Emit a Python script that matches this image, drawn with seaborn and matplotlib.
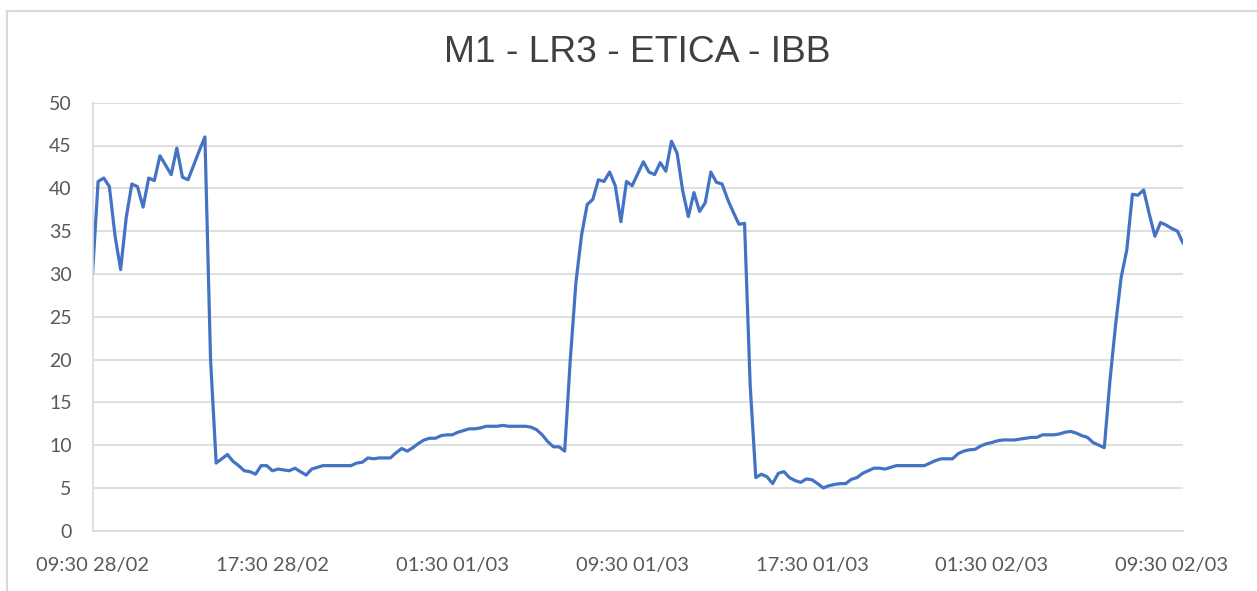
import numpy as np
import pandas as pd
import seaborn as sns
import matplotlib.pyplot as plt
from matplotlib.patches import Rectangle

# -----------------------------------------------------------------------------
# Data (one reading every 15 minutes, from 09:30 28/02)
# -----------------------------------------------------------------------------

values = [
    30.0, 40.8, 41.2, 40.2, 34.5, 30.5, 36.6, 40.5, 40.2, 37.8,
    41.2, 40.9, 43.8, 42.7, 41.6, 44.7, 41.3, 41.0, 42.7, 44.4,
    46.0, 20.0, 7.9, 8.4, 8.9, 8.1, 7.6, 7.0, 6.9, 6.6,
    7.6, 7.6, 7.0, 7.2, 7.1, 7.0, 7.3, 6.9, 6.5, 7.2,
    7.4, 7.6, 7.6, 7.6, 7.6, 7.6, 7.6, 7.9, 8.0, 8.5,
    8.4, 8.5, 8.5, 8.5, 9.1, 9.6, 9.3, 9.7, 10.2, 10.6,
    10.8, 10.8, 11.1, 11.2, 11.2, 11.5, 11.7, 11.9, 11.9, 12.0,
    12.2, 12.2, 12.2, 12.3, 12.2, 12.2, 12.2, 12.2, 12.1, 11.8,
    11.2, 10.4, 9.8, 9.8, 9.3, 20.0, 29.0, 34.5, 38.1, 38.7,
    41.0, 40.8, 41.9, 40.3, 36.1, 40.8, 40.3, 41.7, 43.1, 41.9,
    41.6, 43.0, 42.0, 45.5, 44.1, 39.7, 36.7, 39.5, 37.3, 38.3,
    41.9, 40.7, 40.5, 38.7, 37.2, 35.8, 35.9, 17.0, 6.2, 6.6,
    6.3, 5.5, 6.7, 6.9, 6.2, 5.85, 5.65, 6.05, 5.95, 5.5,
    5.0, 5.25, 5.4, 5.5, 5.5, 6.0, 6.2, 6.7, 7.0, 7.3,
    7.3, 7.2, 7.4, 7.6, 7.6, 7.6, 7.6, 7.6, 7.6, 7.9,
    8.2, 8.4, 8.4, 8.4, 9.0, 9.3, 9.45, 9.5, 9.9, 10.15,
    10.3, 10.5, 10.6, 10.6, 10.6, 10.7, 10.8, 10.9, 10.9, 11.2,
    11.2, 11.2, 11.3, 11.5, 11.6, 11.4, 11.1, 10.9, 10.3, 10.0,
    9.7, 17.5, 24.0, 29.6, 32.8, 39.3, 39.2, 39.8, 37.0, 34.4,
    36.0, 35.7, 35.3, 35.0, 33.6,
]

tick_labels = [
    "09:30 28/02", "17:30 28/02", "01:30 01/03", "09:30 01/03",
    "17:30 01/03", "01:30 02/03", "09:30 02/03",
]
y_ticks = [0, 5, 10, 15, 20, 25, 30, 35, 40, 45, 50]
title = "M1 - LR3 - ETICA - IBB"

times = pd.date_range("2023-02-28 09:30", periods=len(values), freq="15min")
df = pd.DataFrame({"time": times, "value": values})
tick_times = times[::32]

# -----------------------------------------------------------------------------
# Plot
# -----------------------------------------------------------------------------

sns.set_style("white")
plt.rcParams["font.family"] = ["Lato", "DejaVu Sans"]

W, H = 1257, 591
fig = plt.figure(figsize=(W / 100, H / 100), dpi=100)

# plot area in pixel coords: x 92.5..1183, y 102.7..530.7
ax = fig.add_axes([92.5 / W, 1 - 530.7 / H, (1183 - 92.5) / W, (530.7 - 102.7) / H])

sns.lineplot(data=df, x="time", y="value", ax=ax, color="#4472C4", linewidth=2.3)

ax.set_xlim(times[0], times[-1])
ax.set_ylim(0, 50)
ax.set_yticks(y_ticks)
ax.set_xticks(tick_times)
ax.set_xticklabels(tick_labels)
ax.set_xlabel("")
ax.set_ylabel("")

ax.grid(axis="y", color="#D9D9D9", linewidth=1.2)
ax.grid(axis="x", visible=False)
for side in ["top", "right"]:
    ax.spines[side].set_visible(False)
for side in ["left", "bottom"]:
    ax.spines[side].set_color("#D9D9D9")
    ax.spines[side].set_linewidth(1.2)

ax.tick_params(axis="y", length=0, pad=15, labelsize=14, labelcolor="#595959")
ax.tick_params(axis="x", length=0, pad=19, labelsize=14.5, labelcolor="#595959")

fig.text(637.5 / W, 1 - 52.5 / H, title, ha="center", va="center",
         fontsize=26.8, color="#404040", family=["Liberation Sans", "DejaVu Sans"])

# chart frame (cut off at right and bottom in the reference)
fig.patches.append(Rectangle((7 / W, -0.1), 1.2, (1 - 11 / H) + 0.1,
                             transform=fig.transFigure, fill=False,
                             edgecolor="#D9D9D9", linewidth=1.5))

fig.savefig("out.png", dpi=100)
